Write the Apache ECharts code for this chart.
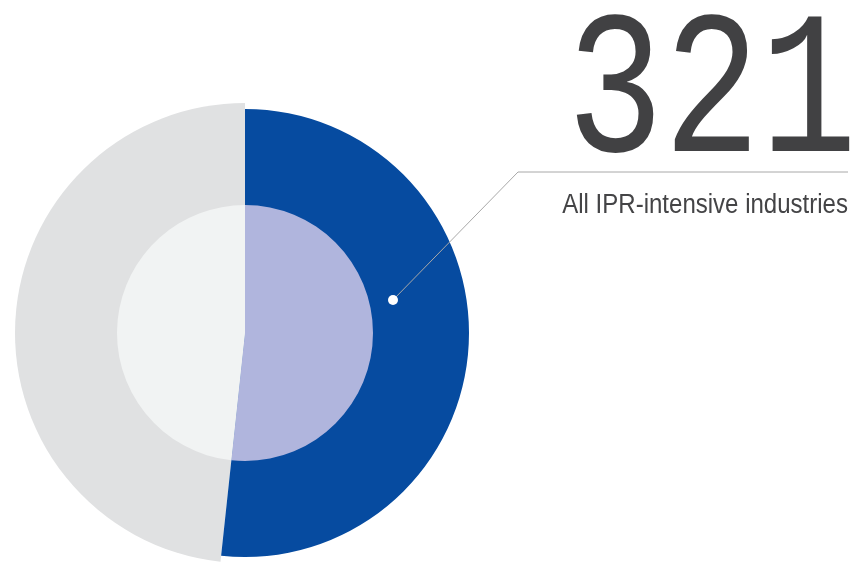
<!DOCTYPE html>
<html>
<head>
<meta charset="utf-8">
<script src="https://cdn.jsdelivr.net/npm/echarts@6/dist/echarts.min.js"></script>
<style>
  html, body { margin: 0; padding: 0; background: #fff; }
  #chart { width: 868px; height: 564px; }
</style>
</head>
<body>
<div id="chart"></div>
<script>
// slices, clockwise from 12 o'clock
var categories = ['IPR-intensive', 'Other'];
var outerShares = [51.7, 48.3];
var innerShares = [51.7, 48.3];
var headline = '321';
var headlineCaption = 'All IPR-intensive industries';

var chart = echarts.init(document.getElementById('chart'));

function slices(values, colors) {
  return categories.map(function (name, i) {
    return { name: name, value: values[i], itemStyle: { color: colors[i] } };
  });
}

chart.setOption({
  animation: false,
  series: [{
    // gray part of the outer disc, a bit bigger than the blue one
    type: 'pie',
    center: [245, 333],
    radius: [0, 230],
    silent: true,
    label: { show: false },
    labelLine: { show: false },
    data: slices(outerShares, ['rgba(0,0,0,0)', '#e0e1e2'])
  }, {
    type: 'pie',
    center: [245, 333],
    radius: [0, 224],
    silent: true,
    label: { show: false },
    labelLine: { show: false },
    data: slices(outerShares, ['#064ba0', 'rgba(0,0,0,0)'])
  }, {
    type: 'pie',
    center: [245, 333],
    radius: [0, 128],
    z: 3,
    silent: true,
    label: { show: false },
    labelLine: { show: false },
    data: slices(innerShares, ['#b0b5dd', '#f1f3f3'])
  }],
  graphic: [{
    type: 'polyline',
    z: 10,
    shape: { points: [[393, 300], [518, 172], [848, 172]] },
    style: { stroke: '#a8a8a8', lineWidth: 1, fill: null }
  }, {
    type: 'circle',
    z: 11,
    shape: { cx: 393, cy: 300, r: 5 },
    style: { fill: '#fff' }
  }, {
    type: 'text',
    x: 857,
    y: 199,
    scaleX: 0.79,
    style: {
      text: headline,
      font: '204px "Liberation Mono", monospace',
      textAlign: 'right',
      textVerticalAlign: 'bottom',
      fill: '#414143'
    }
  }, {
    type: 'text',
    x: 848,
    y: 219,
    scaleX: 0.89,
    style: {
      text: headlineCaption,
      font: '27px "Liberation Sans", Arial, sans-serif',
      textAlign: 'right',
      textVerticalAlign: 'bottom',
      fill: '#444446'
    }
  }]
});
</script>
</body>
</html>
